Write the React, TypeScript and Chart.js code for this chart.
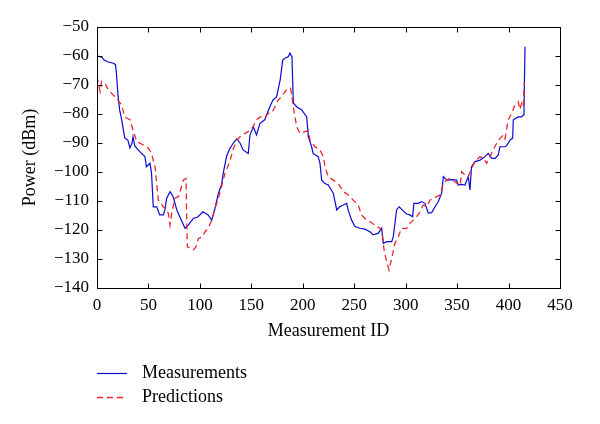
import React, { useEffect, useRef } from "react";
import { Chart, registerables } from "chart.js";

Chart.register(...registerables);

const measIds = [0, 3, 5, 7, 10, 16, 18, 19, 20.5, 22, 24, 25.6, 27, 30, 32, 34, 35, 36.7, 40, 43, 46.6, 48, 51.5, 53, 54.7, 58, 61, 64.4, 66, 67.7, 71, 74, 77.5, 82, 85.5, 88.7, 93.6, 98, 103, 108, 111.5, 114.7, 118, 121, 122.7, 126, 129, 132.5, 136, 139, 142, 147, 148.7, 152, 155, 158.4, 163, 168, 171, 174.6, 178, 180.5, 182.7, 186, 187.5, 189.5, 190.8, 194, 199, 203.8, 205.4, 208.6, 210, 215, 216.7, 218.4, 221.6, 224.8, 229.6, 233, 236, 239.4, 242.7, 244, 247.5, 250.7, 255.6, 260.4, 265.3, 268.5, 273.4, 276.7, 278.2, 281.5, 286.4, 288, 291.2, 293.8, 297.7, 301, 304, 306.8, 308, 312.3, 315.6, 318.8, 322, 325.3, 328.5, 331.7, 335, 336.6, 340, 345, 349.5, 351, 354, 357.6, 360.8, 362.5, 364, 367.4, 372.2, 377, 380.3, 383.6, 387, 390, 391.6, 396.5, 398, 401.4, 404, 404.6, 406, 409.4, 412.7, 414.3, 415, 416];
const measValues = [-60, -60.2, -60.5, -61.4, -62, -62.5, -63, -66.5, -74, -78.6, -82, -85.5, -88.3, -89, -91.7, -90, -87.8, -91, -92.4, -93.5, -94.7, -98.2, -97, -100.4, -112, -112, -114.8, -114.8, -113, -109, -106.8, -108.5, -113, -116.6, -119.4, -118.3, -116, -115.5, -113.7, -114.8, -116.6, -112.5, -107.3, -104.5, -100.4, -94.5, -92, -90, -88.5, -90, -92.4, -93.6, -87.2, -84.4, -87.2, -83.2, -82, -77.5, -75.2, -74, -68.3, -61.4, -60.8, -60.2, -59, -60.2, -76.2, -77.5, -78.6, -81, -87.8, -91.3, -93.6, -94.7, -97, -102.8, -104, -104.5, -107.3, -113.1, -112, -111.4, -110.8, -113, -116.6, -118.8, -119.4, -119.7, -120.6, -121.7, -121.1, -119.4, -124.6, -124, -124, -122.3, -113, -112, -113.5, -114.5, -114.8, -115.4, -110.8, -110.8, -110.2, -110.8, -114.2, -114, -112, -110.2, -107.3, -101.6, -102.8, -102.6, -102.8, -104.5, -104.3, -104.5, -101.6, -106.2, -98.2, -96.4, -95.9, -94.7, -93.6, -95.3, -95.3, -94.1, -91.3, -91.3, -91, -89, -88.3, -82, -81.7, -81, -81, -80.3, -78, -56.8];

const predIds = [0, 1.3, 3, 4.5, 7.8, 11, 14.3, 19, 24, 27, 32, 35, 38.6, 45, 50, 53, 56.4, 58, 59.6, 61, 64.4, 66, 69.3, 71, 72.6, 75.8, 79, 80.7, 83.9, 86.5, 87, 87.8, 90.4, 93.6, 96.2, 98.5, 101.7, 105, 108, 111.5, 114.7, 118, 121, 124.4, 129, 132.5, 136, 140, 143.8, 150, 155, 158.4, 163, 166.5, 170, 173, 176, 179.5, 182.7, 186, 188, 189, 190.8, 194, 197.3, 202, 205.4, 207, 212, 216.7, 220, 221.6, 224.8, 229.6, 234.5, 239.4, 244.3, 249, 254, 257, 260.4, 265.3, 270, 275, 277.6, 279, 281.5, 283.8, 286.4, 289.6, 292.8, 296, 301, 304, 307.4, 310.7, 314, 317, 320.6, 323.6, 326.8, 330, 333.4, 336.6, 340, 343, 346, 349.5, 353, 354.4, 357.6, 360.8, 364, 367.4, 372.2, 375.5, 378.7, 382, 385, 388.4, 391.6, 394.9, 396.5, 399.7, 403, 406.2, 409.4, 411, 412.7, 414.3, 415.3];
const predValues = [-67.1, -69.4, -72.3, -68.8, -69.4, -71.7, -72.9, -74.6, -76.9, -81, -82, -85.5, -89.5, -90.7, -91.8, -93.6, -98.2, -103.9, -109.7, -110.2, -112, -112.5, -114.2, -118.3, -114.2, -109, -108.5, -106.8, -102.8, -102.2, -112, -125.8, -126.3, -126.9, -125.8, -122.9, -122.5, -120.6, -119.4, -116.6, -112.5, -109, -105, -100.4, -96.5, -92, -89, -87.5, -86.7, -85.5, -82, -81, -81.3, -79.8, -79.5, -77.5, -75.2, -74, -72.3, -71.1, -71.1, -72.9, -77.5, -84.4, -86.7, -86.1, -85.8, -89, -91.3, -92.4, -94.7, -98.2, -101.6, -102.8, -103.9, -106.8, -107.9, -109.7, -111.4, -114.8, -116, -117.1, -118.3, -119.4, -122.3, -126.9, -130.9, -133.8, -129.8, -124.6, -122.3, -119.4, -119.5, -117.7, -116.6, -115.4, -113.7, -111.4, -111.8, -109.7, -109.1, -108.5, -108, -103.9, -102.8, -102.2, -102.8, -103.9, -104.5, -99.9, -101, -101.6, -98.8, -96.4, -94.7, -95.2, -97, -94.7, -92.4, -90.1, -88.4, -87.2, -88.5, -82, -79.8, -76.9, -75.8, -78.5, -76.3, -77.5, -69.4];

const seriesLabels = ["Measurements", "Predictions"];
const xAxisTitle = "Measurement ID";
const yAxisTitle = "Power (dBm)";

const FONT = "'Liberation Serif', 'DejaVu Serif', serif";

const framePlugin = {
  id: "frameTicks",
  afterDatasetsDraw(chart: any) {
    const { ctx, chartArea, scales } = chart;
    const l = Math.round(chartArea.left) + 0.5;
    const r = Math.round(chartArea.right) + 0.5;
    const t = Math.round(chartArea.top) + 0.5;
    const b = Math.round(chartArea.bottom) + 0.5;
    ctx.save();
    ctx.strokeStyle = "#000";
    ctx.lineWidth = 1;
    ctx.strokeRect(l, t, r - l, b - t);
    const len = 5;
    ctx.beginPath();
    scales.x.ticks.forEach((tk: any) => {
      const px = Math.round(scales.x.getPixelForValue(tk.value)) + 0.5;
      ctx.moveTo(px, b);
      ctx.lineTo(px, b - len);
      ctx.moveTo(px, t);
      ctx.lineTo(px, t + len);
    });
    scales.y.ticks.forEach((tk: any) => {
      const py = Math.round(scales.y.getPixelForValue(tk.value)) + 0.5;
      ctx.moveTo(l, py);
      ctx.lineTo(l + len, py);
      ctx.moveTo(r, py);
      ctx.lineTo(r - len, py);
    });
    ctx.stroke();
    ctx.restore();
  },
};

const legendPlugin = {
  id: "customLegend",
  afterDraw(chart: any) {
    const { ctx, chartArea } = chart;
    const x0 = chartArea.left;
    const rows = [373, 397];
    ctx.save();
    chart.data.datasets.forEach((ds: any, i: number) => {
      const y = rows[i] + 0.5;
      ctx.strokeStyle = ds.borderColor;
      ctx.lineWidth = ds.borderWidth;
      ctx.setLineDash(ds.borderDash || []);
      ctx.beginPath();
      ctx.moveTo(x0, y);
      ctx.lineTo(x0 + 30, y);
      ctx.stroke();
      ctx.setLineDash([]);
      ctx.fillStyle = "#000";
      ctx.font = `18px ${FONT}`;
      ctx.textBaseline = "middle";
      ctx.textAlign = "left";
      ctx.fillText(ds.label, x0 + 45, rows[i]);
    });
    ctx.restore();
  },
};

const fmt = (v: any) => (v < 0 ? "\u2212" + Math.abs(v) : String(v));

export default function App() {
  const ref = useRef<HTMLCanvasElement>(null);
  useEffect(() => {
    if (!ref.current) return;
    const chart = new Chart(ref.current, {
      type: "line",
      data: {
        datasets: [
          {
            label: seriesLabels[0],
            data: measIds.map((x, i) => ({ x, y: measValues[i] })),
            borderColor: "#0a0ad2",
            borderWidth: 1.2,
            pointRadius: 0,
            tension: 0,
            fill: false,
            order: 1,
          },
          {
            label: seriesLabels[1],
            data: predIds.map((x, i) => ({ x, y: predValues[i] })),
            borderColor: "#e8262e",
            borderWidth: 1.3,
            borderDash: [6, 4],
            pointRadius: 0,
            tension: 0,
            fill: false,
            order: 0,
          },
        ],
      },
      options: {
        responsive: false,
        animation: false,
        layout: { padding: { left: 0, top: 27, right: 40, bottom: 80 } },
        plugins: { legend: { display: false }, tooltip: { enabled: false } },
        scales: {
          x: {
            type: "linear",
            min: 0,
            max: 450,
            grid: { display: false, drawTicks: false },
            border: { display: false },
            ticks: { stepSize: 50, padding: 7, color: "#000", font: { family: FONT, size: 17 }, callback: fmt, maxRotation: 0 },
            title: { display: true, text: xAxisTitle, color: "#000", font: { family: FONT, size: 18 }, padding: { top: 0, bottom: 2 } },
            afterFit: (s: any) => { s.height = 56; },
          },
          y: {
            type: "linear",
            min: -140,
            max: -50,
            grid: { display: false, drawTicks: false },
            border: { display: false },
            ticks: { stepSize: 10, padding: 8, color: "#000", font: { family: FONT, size: 17 }, callback: fmt },
            title: { display: true, text: yAxisTitle, color: "#000", font: { family: FONT, size: 18 }, padding: { top: 19, bottom: 0 } },
            afterFit: (s: any) => { s.width = 97; },
          },
        },
      },
      plugins: [framePlugin, legendPlugin],
    });
    return () => chart.destroy();
  }, []);
  return (
    <div style={{ position: "fixed", left: 0, top: 0, width: 600, height: 424, background: "#fff" }}>
      <canvas ref={ref} width={600} height={424} />
    </div>
  );
}
